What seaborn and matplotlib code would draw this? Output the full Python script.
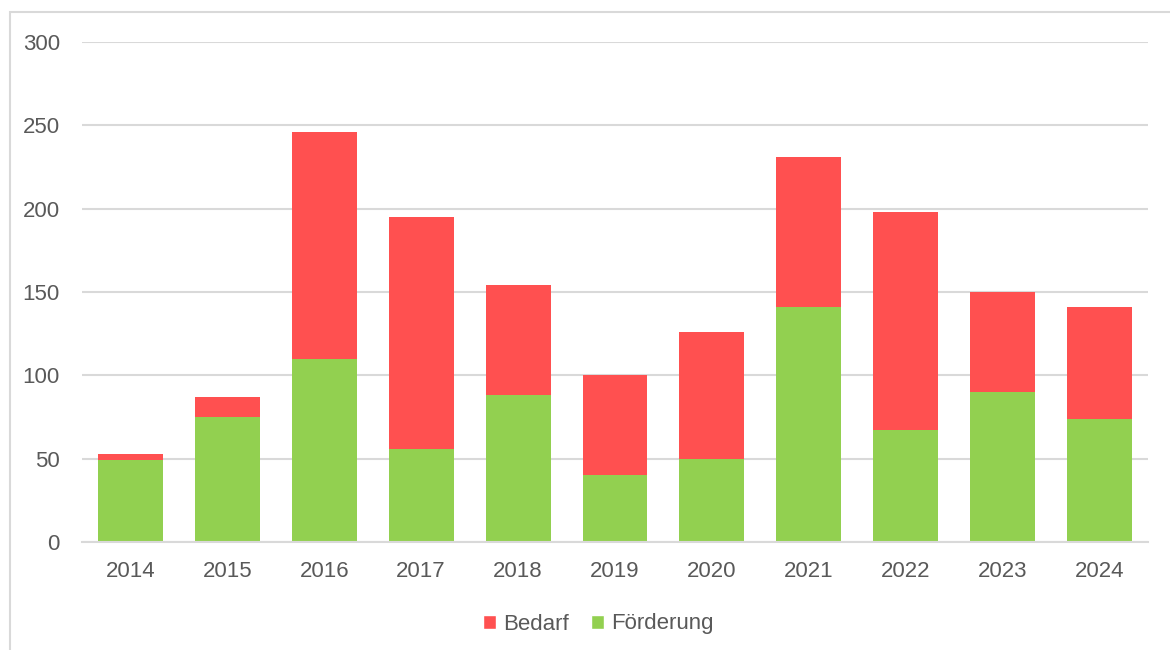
import matplotlib
matplotlib.use("Agg")
import matplotlib.pyplot as plt
import seaborn as sns
import pandas as pd
from matplotlib.patches import Patch, Rectangle

# Data
years = ["2014", "2015", "2016", "2017", "2018", "2019", "2020", "2021", "2022", "2023", "2024"]
bedarf = [53, 87, 246, 195, 154, 100, 126, 231, 198, 150, 141]
foerderung = [49, 75, 110, 56, 88, 40, 50, 141, 67, 90, 74]
y_ticks = [0, 50, 100, 150, 200, 250, 300]

RED = "#FF5050"
GREEN = "#92D050"
TEXT = "#595959"
GRID = "#D9D9D9"

df = pd.DataFrame({"Jahr": years, "Bedarf": bedarf, "Förderung": foerderung})

sns.set_theme(style="white")
plt.rcParams["font.family"] = ["Liberation Sans", "DejaVu Sans"]

fig = plt.figure(figsize=(11.7, 6.5), dpi=100)
ax = fig.add_axes([82 / 1170, 1 - 542 / 650, (1148 - 82) / 1170, 500 / 650])

sns.barplot(data=df, x="Jahr", y="Bedarf", color=RED, width=0.67,
            saturation=1, linewidth=0, ax=ax, zorder=3)
sns.barplot(data=df, x="Jahr", y="Förderung", color=GREEN, width=0.67,
            saturation=1, linewidth=0, ax=ax, zorder=4)

ax.set_ylim(0, 300)
ax.set_xlim(-0.5, len(years) - 0.5)
ax.set_yticks(y_ticks)
ax.set_xlabel("")
ax.set_ylabel("")
ax.grid(axis="y", color=GRID, linewidth=1.5, zorder=0)
ax.grid(axis="x", visible=False)
for side in ["top", "right", "left"]:
    ax.spines[side].set_visible(False)
ax.spines["bottom"].set_color(GRID)
ax.spines["bottom"].set_linewidth(1.5)
ax.spines["bottom"].set_zorder(5)
ax.tick_params(axis="both", length=0, colors=TEXT, labelsize=16)
ax.tick_params(axis="y", pad=16)
ax.tick_params(axis="x", pad=14)

# legend below the plot
handles = [Patch(facecolor=RED, label="Bedarf"), Patch(facecolor=GREEN, label="Förderung")]
leg = fig.legend(handles=handles, loc="center", bbox_to_anchor=(598 / 1170, 1 - 624 / 650),
                 ncol=2, frameon=False, fontsize=16, handlelength=0.6, handleheight=0.6,
                 handletextpad=0.3, columnspacing=1.0)
for t in leg.get_texts():
    t.set_color(TEXT)

# thin outer frame of the chart area
fig.patches.append(Rectangle((10 / 1170, -0.1), 1.2, 1 - 12 / 650 + 0.1, transform=fig.transFigure,
                             fill=False, edgecolor="#D9D9D9", linewidth=1.5))

fig.savefig("out.png", dpi=100)
